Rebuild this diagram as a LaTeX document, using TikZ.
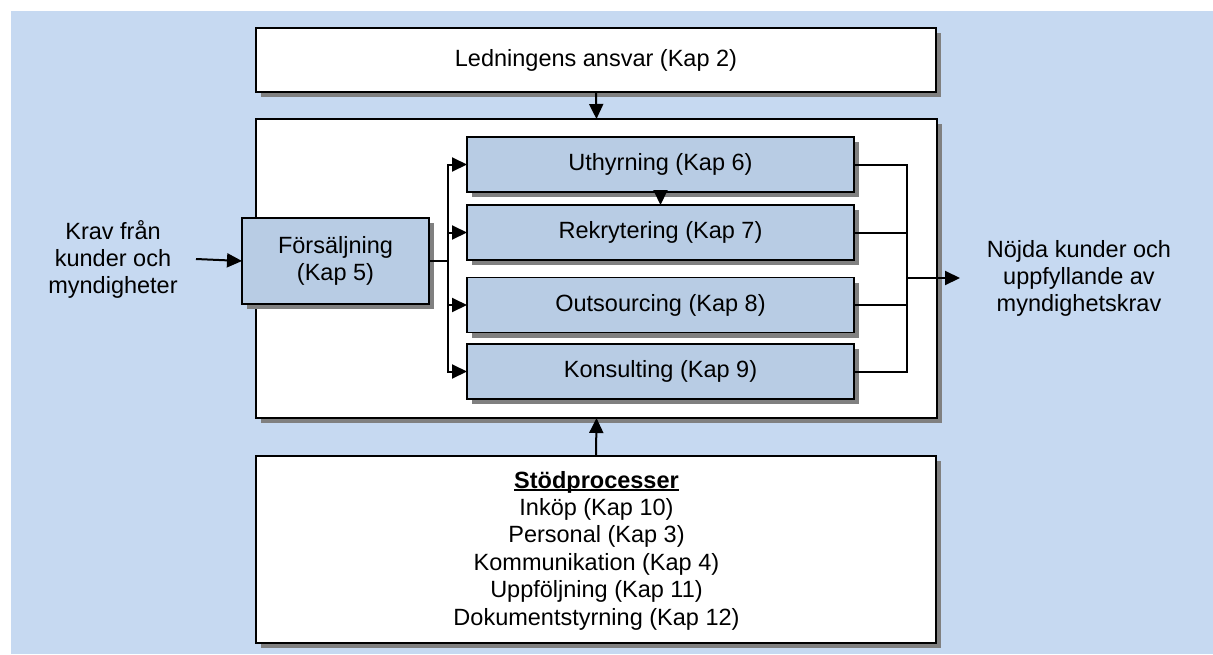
\documentclass[tikz,border=0pt]{standalone}
\usepackage{fontspec}
\setmainfont{Liberation Sans}
\usetikzlibrary{arrows.meta,shadows}
\definecolor{bgblue}{HTML}{C6D9F1}
\definecolor{boxblue}{HTML}{B8CCE4}
\definecolor{shadowgray}{HTML}{808080}
\newcommand\myul[1]{\setbox0\hbox{#1}\rlap{\vrule width\wd0 height -1.4pt depth 3.4pt}\box0}
\begin{document}
\begin{tikzpicture}[x=1pt,y=-1pt,
  every node/.style={font=\fontsize{23.5}{27}\selectfont, inner sep=0pt, outer sep=0pt},
  shad/.style={drop shadow={shadow xshift=5pt, shadow yshift=-5pt, fill=shadowgray, opacity=1}},
  wbox/.style={draw=black, line width=1.8pt, fill=white, shad},
  bbox/.style={draw=black, line width=1.8pt, fill=boxblue, shad, align=center},
  conn/.style={line width=2pt, draw=black},
  arr/.style={conn, -{Triangle[length=15pt,width=14pt]}}]
\useasboundingbox (0,0) rectangle (1213,654);
\fill[white] (0,0) rectangle (1213,654);
\fill[bgblue] (11,11) rectangle (1213,654);

\node[wbox, minimum width=680pt, minimum height=64pt] (top) at (596,60) {Ledningens ansvar (Kap 2)};
\node[wbox, minimum width=681pt, minimum height=299pt] (main) at (596.5,268.5) {};
\node[wbox, minimum width=680pt, minimum height=187pt] (bottom) at (596,549.5) {};
\node[align=center, font=\fontsize{23.5}{27.4}\selectfont] (support) at (596.5,550.5) {\myul{\textbf{Stödprocesser}}\\Inköp (Kap 10)\\Personal (Kap 3)\\Kommunikation (Kap 4)\\Uppföljning (Kap 11)\\Dokumentstyrning (Kap 12)};

\node[bbox, minimum width=187pt, minimum height=86pt] (fors) at (335.5,261) {Försäljning\\(Kap 5)};
\node[bbox, minimum width=387pt, minimum height=55pt] (u) at (660.5,164.5) {Uthyrning (Kap 6)};
\node[bbox, minimum width=387pt, minimum height=55pt] (r) at (660.5,232.5) {Rekrytering (Kap 7)};
\node[bbox, minimum width=387pt, minimum height=55pt] (o) at (660.5,305) {Outsourcing (Kap 8)};
\node[bbox, minimum width=387pt, minimum height=55pt] (k) at (660.5,371.5) {Konsulting (Kap 9)};

\node[align=center] (krav) at (113,259) {Krav från\\kunder och\\myndigheter};
\node[align=center] (nojd) at (1079,278) {Nöjda kunder och\\uppfyllande av\\myndighetskrav};

\coordinate (in) at (196,259);
\coordinate (fork) at (448,261);
\coordinate (join) at (907,278);
\coordinate (out) at (960,278);

\draw[arr] (top.south) -- (main.north);
\draw[arr] (bottom.north) -- (main.south);
\draw[arr] (in) -- (fors.west);
\draw[conn] (fors.east) -- (fork);
\draw[arr] (fork) |- (u.west);
\draw[arr] (fork) |- (r.west);
\draw[arr] (fork) |- (o.west);
\draw[arr] (fork) |- (k.west);
\draw[arr] (u.south) -- (r.north);
\draw[conn] (u.east) -| (join);
\draw[conn] (r.east) -| (join);
\draw[conn] (o.east) -| (join);
\draw[conn] (k.east) -| (join);
\draw[arr] (join) -- (out);
\end{tikzpicture}
\end{document}
